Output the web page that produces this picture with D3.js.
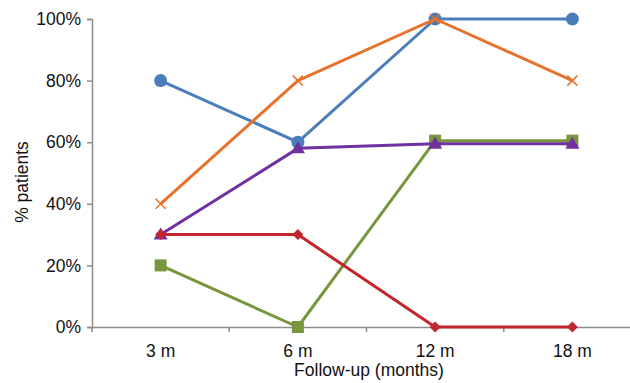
<!DOCTYPE html>
<html><head><meta charset="utf-8">
<script src="https://cdn.jsdelivr.net/npm/d3@7"></script>
<style>body{margin:0;background:#fff}svg{display:block}text{font-family:"Liberation Sans",Arial,sans-serif;fill:#111}</style>
</head><body><svg id="c" width="630" height="383"></svg>
<script>
const categories = ["3 m", "6 m", "12 m", "18 m"];
const yTicks = [0, 20, 40, 60, 80, 100];
const seriesNames = ["A", "B", "C", "D", "E"];
const seriesA = [80, 60, 100, 100];      // blue circle
const seriesB = [40, 80, 100, 80];       // orange x
const seriesC = [20, 0, 60.5, 60.5];     // green square
const seriesD = [30, 58, 59.5, 59.5];    // purple triangle
const seriesE = [30, 30, 0, 0];          // red diamond
const colors = ["#4a7ebb", "#e8722c", "#77963d", "#7030a0", "#c3252d"];
const shapes = ["circle", "cross", "square", "triangle", "diamond"];
const allSeries = [seriesA, seriesB, seriesC, seriesD, seriesE];

const svg = d3.select("#c");
const x = d3.scaleBand().domain(categories).range([92, 641]);
const y = d3.scaleLinear().domain([0, 100]).range([327, 19]);

// y axis
const ya = svg.append("g").attr("transform", "translate(92,0)")
  .call(d3.axisLeft(y).tickValues(yTicks).tickFormat(d => d + "%").tickSize(5).tickPadding(6));
ya.select(".domain").attr("stroke", "#8c8c8c").attr("stroke-width", 1.5);
ya.selectAll(".tick line").attr("stroke", "#8c8c8c").attr("stroke-width", 1.5);
ya.selectAll(".tick text").style("font-size", "17.5px").attr("fill", "#111");

// x axis
const xa = svg.append("g").attr("transform", "translate(0,327)")
  .call(d3.axisBottom(x).tickSize(0).tickPadding(18));
xa.select(".domain").attr("stroke", "#8c8c8c").attr("stroke-width", 1.5);
xa.selectAll(".tick text").style("font-size", "17.5px").attr("fill", "#111");
// boundary ticks
const bounds = categories.map(c => x(c)).concat([x.range()[1]]);
svg.append("g").selectAll("line").data(bounds).join("line")
  .attr("x1", d => d).attr("x2", d => d).attr("y1", 327).attr("y2", 332)
  .attr("stroke", "#8c8c8c").attr("stroke-width", 1.5);

svg.append("text").attr("x", 369).attr("y", 376).attr("text-anchor", "middle")
  .style("font-size", "17.5px").text("Follow-up (months)");
svg.append("text").attr("transform", "translate(28,182) rotate(-90)").attr("text-anchor", "middle")
  .style("font-size", "17.5px").text("% patients");

const cx = c => x(c) + x.bandwidth() / 2;
const line = d3.line().x((d, i) => cx(categories[i])).y(d => y(d));

allSeries.forEach((s, k) => {
  const g = svg.append("g");
  g.append("path").datum(s).attr("d", line).attr("fill", "none")
    .attr("stroke", colors[k]).attr("stroke-width", 3).attr("stroke-linejoin", "round");
  const pts = g.selectAll(".m").data(s).join("g")
    .attr("transform", (d, i) => `translate(${cx(categories[i])},${y(d)})`);
  const shape = shapes[k];
  if (shape === "circle") pts.append("circle").attr("r", 6.5).attr("fill", colors[k]);
  else if (shape === "square") pts.append("rect").attr("x", -6).attr("y", -6).attr("width", 12).attr("height", 12).attr("fill", colors[k]);
  else if (shape === "triangle") pts.append("path").attr("d", "M0,-7L7,5L-7,5Z").attr("fill", colors[k]);
  else if (shape === "diamond") pts.append("path").attr("d", "M0,-5.5L5.5,0L0,5.5L-5.5,0Z").attr("fill", colors[k]);
  else if (shape === "cross") pts.append("path").attr("d", "M-5,-5L5,5M-5,5L5,-5").attr("stroke", colors[k]).attr("stroke-width", 1.5).attr("fill", "none");
});
</script></body></html>
